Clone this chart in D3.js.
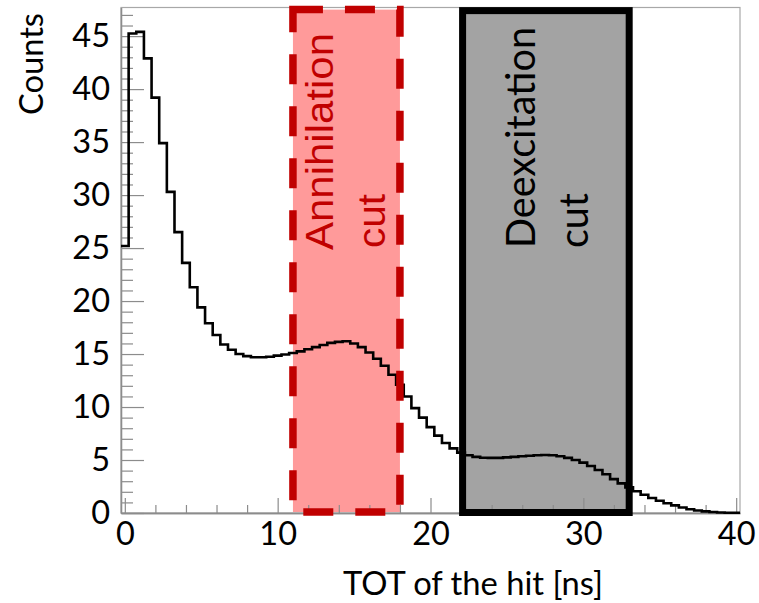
<!DOCTYPE html>
<html>
<head>
<meta charset="utf-8">
<script src="https://cdn.jsdelivr.net/npm/d3@7"></script>
<style>
  html, body { margin: 0; padding: 0; background: #ffffff; }
  svg { display: block; }
</style>
</head>
<body>
<svg id="chart" width="759" height="603"></svg>
<script>
// Histogram binning: 81 bins of 0.5 ns starting at -0.25 ns
const binStart = -0.25;
const binWidth = 0.5;

// Counts per TOT bin (bin centres 0, 0.5, ..., 40 ns)
const counts = [
  25.2, 45.25, 45.4, 42.9, 39.2, 34.9, 30.3, 26.5, 23.6, 21.3,
  19.4, 17.9, 16.8, 15.9, 15.4, 15.0, 14.8, 14.7, 14.7, 14.75,
  14.85, 14.95, 15.1, 15.25, 15.45, 15.65, 15.85, 16.05, 16.15, 16.2,
  16.0, 15.65, 15.15, 14.55, 13.9, 13.05, 12.1, 11.0, 9.9, 9.0,
  8.1, 7.3, 6.6, 6.1, 5.7, 5.45, 5.3, 5.22, 5.2, 5.2,
  5.25, 5.3, 5.35, 5.4, 5.45, 5.47, 5.45, 5.35, 5.2, 5.0,
  4.75, 4.43, 4.06, 3.65, 3.2, 2.8, 2.42, 2.05, 1.72, 1.42,
  1.15, 0.92, 0.72, 0.52, 0.36, 0.24, 0.15, 0.09, 0.05, 0.03,
  0.02
];

// Axis ranges and ticks
const xDomain = [-0.25, 40.25];
const yDomain = [0, 47.7];
const xMajorTicks = [0, 10, 20, 30, 40];
const xMinorTicks = [2, 4, 6, 8, 12, 14, 16, 18, 22, 24, 26, 28, 32, 34, 36, 38];
const yMajorTicks = [0, 5, 10, 15, 20, 25, 30, 35, 40, 45];
const yMinorTicks = [1, 2, 3, 4, 6, 7, 8, 9, 11, 12, 13, 14, 16, 17, 18, 19, 21, 22, 23, 24,
                     26, 27, 28, 29, 31, 32, 33, 34, 36, 37, 38, 39, 41, 42, 43, 44, 46, 47];

// Selection windows [from, to] in ns
const annihilationCut = [11, 18];
const deexcitationCut = [22.1, 33];
const cutTop = 47.5;

// Labels
const xTitle = "TOT of the hit [ns]";
const yTitle = "Counts";
const annihilationLabel = ["Annihilation", "cut"];
const deexcitationLabel = ["Deexcitation", "cut"];

const plot = { left: 121, right: 740, top: 7.5, bottom: 513 };
const sansFont = "Lato, 'Open Sans', sans-serif";
const axisGrey = "#8c8c8c";

const svg = d3.select("#chart");

const x = d3.scaleLinear().domain(xDomain).range([plot.left, plot.right]);
const y = d3.scaleLinear().domain(yDomain).range([plot.bottom, plot.top]);

// ---- cut window fills ----
const boxes = svg.append("g");
boxes.append("rect")
  .attr("x", x(annihilationCut[0])).attr("y", y(cutTop))
  .attr("width", x(annihilationCut[1]) - x(annihilationCut[0]))
  .attr("height", y(0) - y(cutTop) - 1)
  .attr("fill", "#ff9a9a");
boxes.append("rect")
  .attr("x", x(deexcitationCut[0])).attr("y", y(cutTop))
  .attr("width", x(deexcitationCut[1]) - x(deexcitationCut[0]))
  .attr("height", y(0) - y(cutTop) - 1)
  .attr("fill", "#a3a3a3");

// ---- frame ----
svg.append("rect")
  .attr("x", plot.left).attr("y", plot.top)
  .attr("width", plot.right - plot.left).attr("height", plot.bottom - plot.top)
  .attr("fill", "none").attr("stroke", "#a8a8a8").attr("stroke-width", 1.2);

// ---- axes ----
function styleAxis(g) {
  g.select(".domain").attr("stroke", axisGrey).attr("stroke-width", 1.3);
  g.selectAll(".tick line").attr("stroke", axisGrey).attr("stroke-width", 1.2);
  g.selectAll(".tick text")
    .attr("fill", "#000")
    .style("font-family", sansFont)
    .style("font-size", "32.5px");
}

svg.append("g")
  .attr("transform", `translate(0,${plot.bottom})`)
  .call(d3.axisBottom(x).tickValues(xMinorTicks).tickSize(-8).tickFormat("").tickSizeOuter(0))
  .call(styleAxis);
svg.append("g")
  .attr("transform", `translate(0,${plot.bottom})`)
  .call(d3.axisBottom(x).tickValues(xMajorTicks).tickSize(-15).tickPadding(9).tickSizeOuter(0))
  .call(styleAxis);

svg.append("g")
  .attr("transform", `translate(${plot.left},0)`)
  .call(d3.axisLeft(y).tickValues(yMinorTicks).tickSize(-12).tickFormat("").tickSizeOuter(0))
  .call(styleAxis);
svg.append("g")
  .attr("transform", `translate(${plot.left},0)`)
  .call(d3.axisLeft(y).tickValues(yMajorTicks).tickSize(-23).tickPadding(11).tickSizeOuter(0))
  .call(styleAxis);

// ---- histogram outline ----
const steps = counts.map((c, i) => [binStart + i * binWidth, c]);
steps.push([binStart + counts.length * binWidth, counts[counts.length - 1]]);
const line = d3.line()
  .x(d => x(d[0]))
  .y(d => y(d[1]))
  .curve(d3.curveStepAfter);
svg.append("path")
  .datum(steps)
  .attr("d", line)
  .attr("fill", "none")
  .attr("stroke", "#000")
  .attr("stroke-width", 2.6)
  .attr("stroke-linejoin", "miter");

// ---- cut window outlines ----
svg.append("rect")
  .attr("x", x(annihilationCut[0])).attr("y", y(cutTop))
  .attr("width", x(annihilationCut[1]) - x(annihilationCut[0]))
  .attr("height", y(0) - y(cutTop) - 1)
  .attr("fill", "none")
  .attr("stroke", "#c00000")
  .attr("stroke-width", 7.5)
  .attr("stroke-dasharray", "30,22");
svg.append("rect")
  .attr("x", x(deexcitationCut[0])).attr("y", y(cutTop) + 1)
  .attr("width", x(deexcitationCut[1]) - x(deexcitationCut[0]))
  .attr("height", y(0) - y(cutTop) - 1.5)
  .attr("fill", "none")
  .attr("stroke", "#000")
  .attr("stroke-width", 7);

// ---- cut labels (rotated) ----
function vText(px, py, str, opts) {
  const t = svg.append("text")
    .attr("transform", `translate(${px},${py}) rotate(-90)`)
    .attr("text-anchor", "start")
    .style("font-family", opts.font)
    .style("font-size", opts.size + "px")
    .attr("fill", opts.color)
    .text(str);
  if (opts.len) t.attr("textLength", opts.len).attr("lengthAdjust", "spacingAndGlyphs");
  return t;
}
const armFont = "'Liberation Sans', Arial, sans-serif";
vText(333, 250, annihilationLabel[0], { font: armFont, size: 39, color: "#c00000", len: 217 });
vText(385, 248, annihilationLabel[1], { font: armFont, size: 39, color: "#c00000", len: 54 });
vText(535, 248, deexcitationLabel[0], { font: sansFont, size: 41, color: "#000", len: 221 });
vText(588, 248, deexcitationLabel[1], { font: sansFont, size: 41, color: "#000", len: 55 });

// ---- axis titles ----
svg.append("text")
  .attr("x", 343).attr("y", 595)
  .style("font-family", sansFont).style("font-size", "32.5px")
  .attr("textLength", 260).attr("lengthAdjust", "spacingAndGlyphs")
  .attr("fill", "#000")
  .text(xTitle);

svg.append("text")
  .attr("transform", "translate(43,13) rotate(-90)")
  .attr("text-anchor", "end")
  .style("font-family", sansFont).style("font-size", "33px")
  .attr("textLength", 102).attr("lengthAdjust", "spacingAndGlyphs")
  .attr("fill", "#000")
  .text(yTitle);
</script>
</body>
</html>
